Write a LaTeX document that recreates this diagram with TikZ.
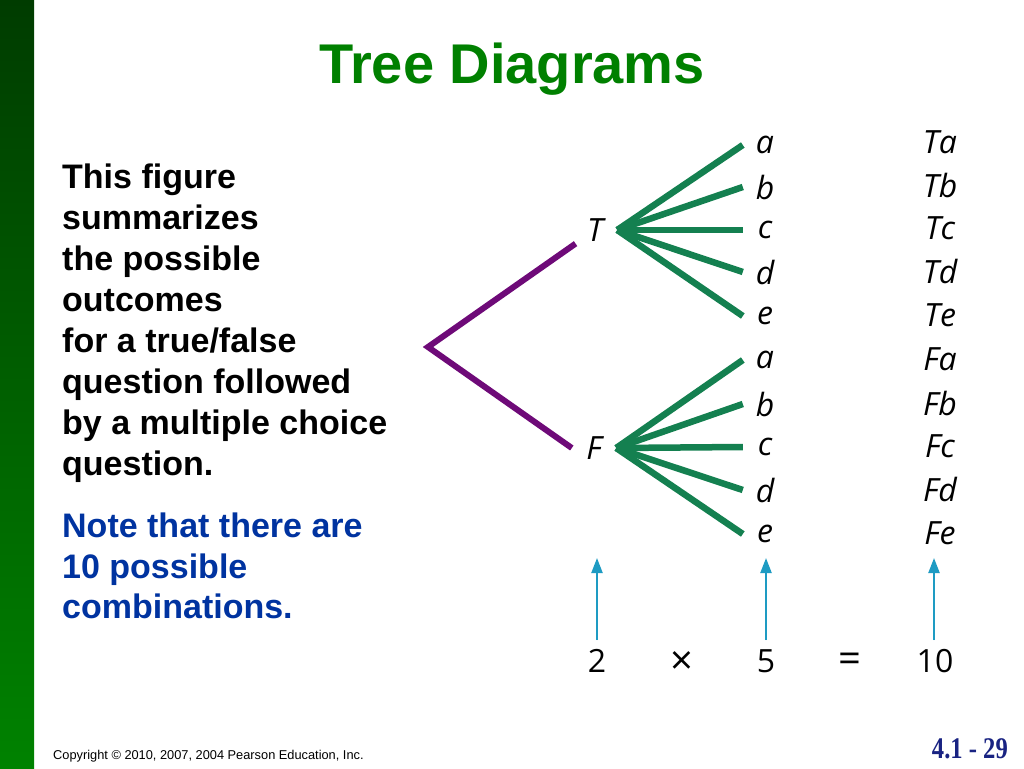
\documentclass[tikz,border=0pt]{standalone}
\usepackage{fontspec}
\usepackage{graphicx}
\setmainfont{Liberation Sans}
\newfontfamily\handfont{Open Sans}
\newfontfamily\numfont{Liberation Serif}
\usetikzlibrary{arrows.meta}
\definecolor{titlegreen}{RGB}{0,128,0}
\definecolor{bartop}{RGB}{0,60,0}
\definecolor{barbottom}{RGB}{0,130,0}
\definecolor{notesblue}{RGB}{0,51,160}
\definecolor{rootpurple}{RGB}{110,10,120}
\definecolor{fangreen}{RGB}{20,128,80}
\definecolor{arrowteal}{RGB}{30,155,195}
\definecolor{slidenavy}{RGB}{25,35,130}
\begin{document}
\begin{tikzpicture}[y=-1pt,x=1pt]
        \tikzset{
            letter/.style={font=\handfont\itshape\fontsize{32}{32}\selectfont,minimum width=44pt,inner sep=2pt},
            outcome/.style={font=\handfont\itshape\fontsize{32}{32}\selectfont,inner sep=0pt},
            factor/.style={font=\handfont\fontsize{32}{32}\selectfont,inner sep=9pt},
            sign/.style={font=\handfont\fontsize{40}{40}\selectfont,inner sep=0pt},
            first/.style={line width=6pt,draw=rootpurple},
            branch/.style={line width=6.5pt,draw=fangreen},
            count/.style={-{Triangle[length=15pt,width=11pt]},line width=2.2pt,draw=arrowteal,fill=arrowteal}
        }
        \useasboundingbox (0,0) rectangle (1024,768);
        \shade[top color=bartop,bottom color=barbottom] (0,0) rectangle (34,768);

        \node[anchor=base,text=titlegreen,font=\bfseries\fontsize{56}{56}\selectfont] (title) at (512,83) {Tree Diagrams};
        \node[anchor=north west,inner sep=0pt,align=left,font=\bfseries\fontsize{34}{41}\selectfont] (text) at (62,164) {This figure\\summarizes\\the possible\\outcomes\\for a true/false\\question followed\\by a multiple choice\\question.};
        \node[anchor=north west,inner sep=0pt,align=left,text=notesblue,font=\bfseries\fontsize{34}{40.5}\selectfont] (note) at (62,513) {Note that there are\\10 possible\\combinations.};

        \coordinate (root) at (428,347);
        \node[letter] (T) at (595,230) {T};
        \node[letter] (F) at (594,448) {F};

        \node[letter] (ta) at (765,145) {a};
        \node[letter] (tb) at (765,187) {b};
        \node[letter] (tc) at (765,230) {c};
        \node[letter] (td) at (765,272) {d};
        \node[letter] (te) at (765,316) {e};
        \node[letter] (fa) at (765,360) {a};
        \node[letter] (fb) at (765,404) {b};
        \node[letter] (fc) at (765,447) {c};
        \node[letter] (fd) at (765,490) {d};
        \node[letter] (fe) at (765,534) {e};

        \node[outcome] (Ta) at (940,142) {Ta};
        \node[outcome] (Tb) at (940,185) {Tb};
        \node[outcome] (Tc) at (940,228) {Tc};
        \node[outcome] (Td) at (940,271) {Td};
        \node[outcome] (Te) at (940,315) {Te};
        \node[outcome] (Fa) at (940,359) {Fa};
        \node[outcome] (Fb) at (940,403) {Fb};
        \node[outcome] (Fc) at (940,446) {Fc};
        \node[outcome] (Fd) at (940,489) {Fd};
        \node[outcome] (Fe) at (940,533) {Fe};

        \draw[first,line join=miter] (T) -- (root) -- (F.west);

        \draw[branch] (T.east) -- (ta.west);
        \draw[branch] (T.east) -- (tb.west);
        \draw[branch] (T.east) -- (tc.west);
        \draw[branch] (T.east) -- (td.west);
        \draw[branch] (T.east) -- (te.west);
        \draw[branch] (F.east) -- (fa.west);
        \draw[branch] (F.east) -- (fb.west);
        \draw[branch] (F.east) -- (fc.west);
        \draw[branch] (F.east) -- (fd.west);
        \draw[branch] (F.east) -- (fe.west);

        \node[factor] (two) at (597,661) {2};
        \node[sign] (times) at (682,663) {×};
        \node[factor] (five) at (766,661) {5};
        \node[sign] (equals) at (850,663) {=};
        \node[factor] (ten) at (935,661) {10};

        \coordinate (up2) at (597,558);
        \coordinate (up5) at (766,558);
        \coordinate (up10) at (934,558);
        \draw[count] (two) -- (up2);
        \draw[count] (five) -- (up5);
        \draw[count] (ten.north -| up10) -- (up10);

        \node[anchor=base west,inner sep=0pt,font=\fontsize{12.8}{12.8}\selectfont] (copy) at (53,759) {Copyright © 2010, 2007, 2004 Pearson Education, Inc.};
        \node[anchor=base east,inner sep=0pt,text=slidenavy,font=\numfont\bfseries\fontsize{30}{30}\selectfont] (page) at (1008,758) {\scalebox{0.82}[1]{4.1 - 29}};
    \end{tikzpicture}
\end{document}
